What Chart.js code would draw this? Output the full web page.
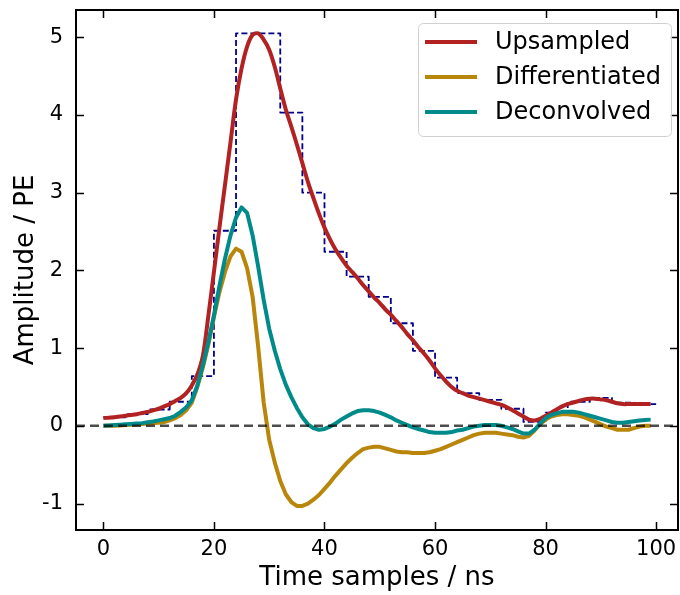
<!DOCTYPE html>
<html><head><meta charset="utf-8">
<script src="https://cdn.jsdelivr.net/npm/chart.js@4.4.1/dist/chart.umd.min.js"></script>
<style>html,body{margin:0;padding:0;background:#fff;}#wrap{width:680px;height:595px;position:relative;}</style>
</head><body><div id="wrap"><canvas id="c" width="680" height="595"></canvas></div>
<script>
// ---- data ----
const time = [0,1,2,3,4,5,6,7,8,9,10,11,12,13,14,15,16,17,18,19,20,21,22,23,24,25,26,27,28,29,30,31,32,33,34,35,36,37,38,39,40,41,42,43,44,45,46,47,48,49,50,51,52,53,54,55,56,57,58,59,60,61,62,63,64,65,66,67,68,69,70,71,72,73,74,75,76,77,78,79,80,81,82,83,84,85,86,87,88,89,90,91,92,93,94,95,96,97,98,99];
const upsampled = [0.10,0.105,0.11,0.12,0.13,0.14,0.15,0.165,0.18,0.20,0.22,0.25,0.28,0.32,0.36,0.42,0.52,0.66,0.90,1.42,1.98,2.55,3.10,3.65,4.20,4.60,4.88,5.03,5.05,4.97,4.84,4.62,4.34,4.07,3.85,3.62,3.38,3.14,2.93,2.73,2.55,2.40,2.27,2.16,2.06,1.98,1.90,1.81,1.73,1.65,1.58,1.50,1.43,1.35,1.27,1.18,1.10,1.01,0.93,0.84,0.74,0.65,0.57,0.50,0.45,0.42,0.39,0.37,0.35,0.33,0.31,0.29,0.27,0.24,0.20,0.16,0.12,0.08,0.07,0.09,0.13,0.17,0.21,0.25,0.28,0.30,0.32,0.34,0.35,0.35,0.34,0.33,0.31,0.29,0.28,0.28,0.28,0.28,0.28,0.28];
const differentiated = [0.00,0.00,0.00,0.005,0.01,0.015,0.02,0.025,0.03,0.035,0.04,0.05,0.07,0.10,0.14,0.20,0.30,0.50,0.75,1.05,1.40,1.72,1.98,2.18,2.28,2.24,2.03,1.66,1.02,0.30,-0.18,-0.47,-0.71,-0.88,-0.98,-1.03,-1.03,-1.00,-0.95,-0.89,-0.81,-0.73,-0.64,-0.56,-0.48,-0.41,-0.35,-0.30,-0.28,-0.27,-0.27,-0.29,-0.31,-0.33,-0.34,-0.34,-0.35,-0.35,-0.35,-0.34,-0.32,-0.30,-0.27,-0.24,-0.21,-0.18,-0.15,-0.12,-0.10,-0.09,-0.09,-0.09,-0.10,-0.11,-0.12,-0.14,-0.15,-0.13,-0.06,0.02,0.08,0.12,0.14,0.15,0.15,0.14,0.13,0.11,0.08,0.05,0.02,-0.01,-0.03,-0.05,-0.05,-0.05,-0.03,-0.01,0.00,0.00];
const deconvolved = [0.00,0.005,0.01,0.015,0.02,0.025,0.03,0.035,0.045,0.055,0.07,0.085,0.10,0.13,0.18,0.24,0.33,0.52,0.78,1.08,1.42,1.80,2.15,2.45,2.68,2.81,2.74,2.45,2.05,1.62,1.25,0.97,0.73,0.53,0.37,0.23,0.11,0.02,-0.03,-0.05,-0.04,-0.01,0.03,0.08,0.12,0.16,0.19,0.20,0.20,0.19,0.17,0.14,0.11,0.07,0.04,0.01,-0.02,-0.04,-0.06,-0.08,-0.09,-0.09,-0.09,-0.08,-0.06,-0.05,-0.03,-0.01,0.00,0.01,0.01,0.01,0.00,-0.02,-0.04,-0.07,-0.10,-0.10,-0.05,0.03,0.10,0.14,0.16,0.18,0.18,0.18,0.17,0.15,0.13,0.11,0.09,0.07,0.05,0.04,0.04,0.05,0.06,0.07,0.075,0.08];
const stepEdges = [0,4,8,12,16,20,24,28,32,36,40,44,48,52,56,60,64,68,72,76,80,84,88,92,96,100];
const stepValues = [0.11,0.15,0.21,0.31,0.64,2.51,5.05,5.05,4.03,3.00,2.24,1.92,1.66,1.32,0.965,0.62,0.42,0.335,0.22,0.05,0.17,0.31,0.36,0.30,0.28];
const xTicks = [0,20,40,60,80,100];
const yTicks = [-1,0,1,2,3,4,5];
const seriesLabels = ['Upsampled','Differentiated','Deconvolved'];
const seriesColors = ['#b22222','#b8860b','#008b8b'];
const xRange = [-4.95,103.95];
const yRange = [-1.34,5.35];
const xTitle = 'Time samples / ns';
const yTitle = 'Amplitude / PE';

const FONT = '"DejaVu Sans", "Liberation Sans", sans-serif';

const pts = arr => time.map((t,i)=>({x:t,y:arr[i]}));
const stepPts = stepEdges.map((x,i)=>({x, y: stepValues[Math.min(i, stepValues.length-1)]}));

const framePlugin = {
  id:'frameTicks',
  afterDatasetsDraw(chart){
    const {ctx, chartArea:{left,right,top,bottom}, scales:{x,y}} = chart;
    ctx.save();
    ctx.strokeStyle = '#000';
    ctx.lineWidth = 1.5;
    const L = 8;
    ctx.beginPath();
    xTicks.forEach(v=>{
      const p = Math.round(x.getPixelForValue(v))+0.5;
      ctx.moveTo(p,bottom); ctx.lineTo(p,bottom-L);
      ctx.moveTo(p,top); ctx.lineTo(p,top+L);
    });
    yTicks.forEach(v=>{
      const p = Math.round(y.getPixelForValue(v))+0.5;
      ctx.moveTo(left,p); ctx.lineTo(left+L,p);
      ctx.moveTo(right,p); ctx.lineTo(right-L,p);
    });
    ctx.stroke();
    ctx.lineWidth = 2;
    ctx.strokeRect(left,top,right-left,bottom-top);
    ctx.restore();
  }
};

const legendPlugin = {
  id:'boxLegend',
  afterDraw(chart){
    const {ctx, chartArea} = chart;
    ctx.save();
    ctx.font = '24px ' + FONT;
    const maxW = Math.max(...seriesLabels.map(s=>ctx.measureText(s).width));
    const pad = 7, handle = 52, gap = 18, rowH = 35;
    const w = pad + handle + gap + maxW + 10;
    const h = rowH*seriesLabels.length + 8;
    const bx = chartArea.right - 7 - w;
    const by = chartArea.top + 13;
    ctx.beginPath();
    ctx.roundRect(bx+0.5, by+0.5, w, h, 5);
    ctx.fillStyle = 'rgba(255,255,255,0.8)';
    ctx.fill();
    ctx.strokeStyle = '#d0d0d0';
    ctx.lineWidth = 1;
    ctx.stroke();
    seriesLabels.forEach((lab,i)=>{
      const cy = by + 19 + i*rowH;
      ctx.beginPath();
      ctx.strokeStyle = seriesColors[i];
      ctx.lineWidth = 4;
      ctx.moveTo(bx+pad, cy); ctx.lineTo(bx+pad+handle, cy);
      ctx.stroke();
      ctx.fillStyle = '#000';
      ctx.textBaseline = 'middle';
      ctx.textAlign = 'left';
      ctx.fillText(lab, bx+pad+handle+gap, cy+1);
    });
    ctx.restore();
  }
};

const common = {pointRadius:0, pointHoverRadius:0, fill:false, borderJoinStyle:'round'};

new Chart(document.getElementById('c'), {
  type:'line',
  data:{
    datasets:[
      {...common, label:'zero', data:[{x:xRange[0],y:0},{x:xRange[1],y:0}], borderColor:'rgba(0,0,0,0.7)', borderWidth:2.5, borderDash:[9,5], order:0},
      {...common, label:seriesLabels[2], data:pts(deconvolved), borderColor:seriesColors[2], borderWidth:4, tension:0, order:1},
      {...common, label:seriesLabels[1], data:pts(differentiated), borderColor:seriesColors[1], borderWidth:4, tension:0, order:2},
      {...common, label:seriesLabels[0], data:pts(upsampled), borderColor:seriesColors[0], borderWidth:4, tension:0.3, order:3},
      {...common, label:'samples', data:stepPts, borderColor:'#00008b', borderWidth:1.8, borderDash:[6,3], stepped:'before', order:4}
    ]
  },
  options:{
    responsive:false,
    animation:false,
    devicePixelRatio:1,
    layout:{padding:{top:10,right:2,left:0,bottom:0}},
    plugins:{legend:{display:false}, tooltip:{enabled:false}},
    scales:{
      x:{
        type:'linear', min:xRange[0], max:xRange[1],
        afterBuildTicks: s => { s.ticks = xTicks.map(v=>({value:v})); },
        afterFit: s => { s.height = 65; s.paddingLeft = 0; s.paddingRight = 0; },
        grid:{display:false, drawTicks:false, tickLength:0},
        border:{display:false},
        ticks:{color:'#000', font:{family:FONT, size:21}, padding:7, maxRotation:0, autoSkip:false},
        title:{display:true, text:xTitle, color:'#000', font:{family:FONT, size:26}, padding:{top:0,bottom:1}}
      },
      y:{
        type:'linear', min:yRange[0], max:yRange[1],
        afterBuildTicks: s => { s.ticks = yTicks.map(v=>({value:v})); },
        afterFit: s => { s.width = 76; s.paddingTop = 0; s.paddingBottom = 0; },
        grid:{display:false, drawTicks:false, tickLength:0},
        border:{display:false},
        ticks:{color:'#000', font:{family:FONT, size:21}, padding:13, autoSkip:false},
        title:{display:true, text:yTitle, color:'#000', font:{family:FONT, size:26}, padding:{top:11,bottom:0}}
      }
    }
  },
  plugins:[framePlugin, legendPlugin]
});
</script>
</body></html>
